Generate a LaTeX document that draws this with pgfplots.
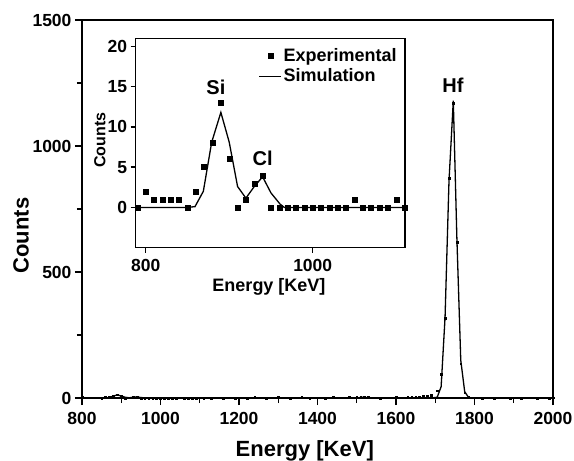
\documentclass[border=0pt]{standalone}
\usepackage{pgfplots}
\pgfplotsset{compat=1.18}
\usepackage{fontspec}
\setmainfont{Liberation Sans}
\begin{document}
\begin{tikzpicture}[x=1pt,y=1pt]
\useasboundingbox (-82,-63) rectangle (492,398);
\begin{axis}[
  at={(0pt,0pt)}, anchor=south west,
  scale only axis, width=471pt, height=378pt,
  xmin=800, xmax=2000, ymin=0, ymax=1500,
  xtick={800,1000,...,2000}, ytick={0,500,1000,1500},
  minor x tick num=1, minor y tick num=1,
  tick align=outside, xtick pos=left, ytick pos=left,
  major tick length=7pt, minor tick length=5pt,
  every tick/.style={black, line width=1.4pt},
  every minor tick/.style={black, line width=1.4pt},
  axis line style={line width=1.6pt},
  tick label style={font=\fontsize{17.5}{17.5}\selectfont\bfseries},
  xticklabel style={yshift=-4pt},
  /pgf/number format/assume math mode=true,
  /pgf/number format/1000 sep={},
  xlabel={Energy [KeV]}, ylabel={Counts},
  label style={font=\fontsize{22}{22}\selectfont\bfseries},
  xlabel style={at={(axis description cs:0.473,0)}, anchor=base, yshift=-58pt},
  ylabel style={at={(axis description cs:-0.1295,0.43)}, anchor=center},
]
\addplot[only marks, mark=square*, mark size=0.9pt, black] coordinates {
(800,2)(810,1)(820,1)(830,1)(840,1)(850,0)(860,2)(870,5)(880,8)(890,13)(900,6)(910,0)(920,1)(930,3)(940,4)(950,0)(960,0)(970,0)(980,0)(990,0)(1000,0)(1010,0)(1020,0)(1030,0)(1040,0)(1050,1)(1060,0)(1070,0)(1080,0)(1090,0)(1100,1)(1110,0)
(1120,1)(1130,0)(1140,1)(1150,1)(1160,0)(1170,1)(1180,1)(1190,0)(1200,1)(1210,1)(1220,0)(1230,1)(1240,2)(1250,1)(1260,1)(1270,0)(1280,1)(1290,1)(1300,2)(1310,1)(1320,1)(1330,0)(1340,1)(1350,1)(1360,2)(1370,1)(1380,0)(1390,1)(1400,1)(1410,1)(1420,0)(1430,1)(1440,2)(1450,1)(1460,1)(1470,1)(1480,2)(1490,1)(1500,2)(1510,4)(1520,5)(1530,3)(1540,1)(1550,1)(1560,0)(1570,1)(1580,1)(1590,1)(1600,2)(1610,1)(1620,1)(1630,2)(1640,3)(1650,3)(1660,4)(1670,6)(1680,9)(1690,12)
(1705,29)(1715,94)(1725,316)(1735,872)(1745,1170)(1755,618)(1765,136)(1775,21)(1785,3)
(1800,1)(1810,1)(1820,0)(1830,1)(1840,1)(1850,0)(1860,1)(1870,1)(1880,1)(1890,0)(1900,1)(1910,1)(1920,0)(1930,1)(1940,1)(1950,1)(1960,0)(1970,1)(1980,1)(1990,0)(2000,1)
};
\addplot[black, line width=1.3pt] coordinates {
(800,0)(850,0)(860,0.5)(870,2)(880,8)(890,12)(900,8)(910,3)(920,1)(930,3)(940,4)(950,2)(960,0.3)(970,0)(1500,0)(1510,2)(1520,3)(1530,1)(1540,0)(1690,0)(1705,3)(1715,45)(1725,320)(1735,860)(1746,1180)(1755,640)(1765,150)(1775,25)(1785,2)(1795,0)(2000,0)
};
\node[font=\fontsize{20}{20}\selectfont\bfseries] at (axis cs:1745,1242) {Hf};
\end{axis}
\begin{axis}[
  at={(53.7pt,150.3pt)}, anchor=south west,
  scale only axis, width=269.3pt, height=209.4pt,
  xmin=788, xmax=1110.5, ymin=-5, ymax=21,
  xtick={800,1000}, ytick={0,5,...,20},
  tick align=outside, xtick pos=left, ytick pos=left,
  major tick length=5pt,
  every tick/.style={black, line width=1.4pt},
  axis line style={line width=1.6pt},
  axis background/.style={fill=white},
  clip=false,
  tick label style={font=\fontsize{17.5}{17.5}\selectfont\bfseries},
  xticklabel style={yshift=-3pt},
  /pgf/number format/assume math mode=true,
  /pgf/number format/1000 sep={},
  xlabel={Energy [KeV]}, ylabel={Counts},
  xlabel style={font=\fontsize{18}{18}\selectfont\bfseries, at={(axis description cs:0.495,0)}, anchor=base, yshift=-44pt},
  ylabel style={font=\fontsize{16}{16}\selectfont\bfseries, at={(axis description cs:-0.1326,0.514)}, anchor=center},
  legend style={at={(axis description cs:0.975,0.96)}, anchor=north east, draw=none, fill=none,
    font=\fontsize{18}{18}\selectfont\bfseries, row sep=3pt, inner sep=0pt,
    nodes={inner sep=1.5pt}},
  legend cell align=left,
  legend image code/.code={\draw[mark repeat=2, mark phase=2, #1] plot coordinates {(0pt,0pt) (11pt,0pt) (22pt,0pt)};},
]
\addplot[only marks, mark=square*, mark size=2.5pt, black] coordinates {
(790,0)(800,2)(810,1)(820,1)(830,1)(840,1)(850,0)(860,2)(870,5)(880,8)(890,13)(900,6)(910,0)(920,1)(930,3)(940,4)(950,0)(960,0)(970,0)(980,0)(990,0)(1000,0)(1010,0)(1020,0)(1030,0)(1040,0)(1050,1)(1060,0)(1070,0)(1080,0)(1090,0)(1100,1)(1110,0)
};
\addlegendentry{Experimental}
\addplot[black, line width=1.3pt] coordinates {
(790,0)(850,0)(859,0.1)(869,2)(879,8.1)(890,11.8)(900,8.1)(910,2.6)(920,1.15)(930,2.6)(940,3.8)(950,1.8)(961,0.4)(966,0)(1110,0)
};
\addlegendentry{Simulation}
\node[font=\fontsize{20}{20}\selectfont\bfseries] at (axis cs:884,14.9) {Si};
\node[font=\fontsize{20}{20}\selectfont\bfseries] at (axis cs:940,6.1) {Cl};
\end{axis}
\end{tikzpicture}
\end{document}
